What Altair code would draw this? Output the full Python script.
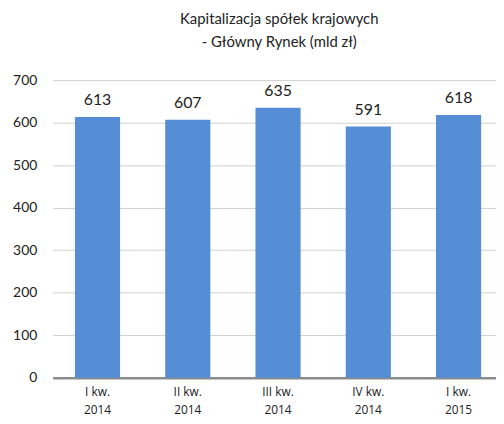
import altair as alt
import pandas as pd

categories = ["I kw.\n2014", "II kw.\n2014", "III kw.\n2014", "IV kw.\n2014", "I kw.\n2015"]
values = [613, 607, 635, 591, 618]
y_ticks = [0, 100, 200, 300, 400, 500, 600, 700]

df = pd.DataFrame({"cat": categories, "val": values})

FONT = "Lato"
XFONT = "Open Sans"

x = alt.X(
    "cat:N",
    sort=categories,
    scale=alt.Scale(paddingInner=0.5, paddingOuter=0.206, align=0.6),
    axis=alt.Axis(
        title=None,
        labelAngle=0,
        labelExpr="split(datum.label, '\\n')",
        labelFont=XFONT,
        labelFontSize=12,
        labelFontWeight="normal",
        labelColor="#222222",
        labelPadding=9,
        labelLineHeight=18,
        ticks=False,
        domainColor="#8c8c8c",
        domainWidth=2.5,
        grid=False,
    ),
)

y = alt.Y(
    "val:Q",
    scale=alt.Scale(domain=[0, 700], nice=False),
    axis=alt.Axis(
        title=None,
        values=y_ticks,
        labelFont=FONT,
        labelFontSize=14,
        labelColor="#222222",
        labelPadding=16,
        ticks=False,
        domain=False,
        grid=True,
        gridColor="#d0d0d0",
        gridWidth=1,
    ),
)

bars = alt.Chart(df).mark_bar(color="#558ED5").encode(x=x, y=y)

labels = alt.Chart(df).mark_text(
    baseline="bottom", dy=-9, font=FONT, fontSize=16, color="#222222"
).encode(x=alt.X("cat:N", sort=categories), y="val:Q", text="val:Q")

chart = (
    alt.layer(bars, labels)
    .properties(
        width=447,
        height=300,
        padding={"left": 45, "top": 71, "right": 0, "bottom": 44},
        autosize=alt.AutoSizeParams(type="none"),
        background="white",
        title=alt.TitleParams(
            text=["Kapitalizacja spółek krajowych", "- Główny Rynek (mld zł)"],
            font=FONT,
            fontSize=15,
            fontWeight="normal",
            color="#222222",
            anchor="middle",
            lineHeight=24,
            offset=23,
            dx=5,
        ),
    )
    .configure_view(stroke=None)
)

chart.save("out.html", embed_options={"renderer": "svg", "actions": False})
